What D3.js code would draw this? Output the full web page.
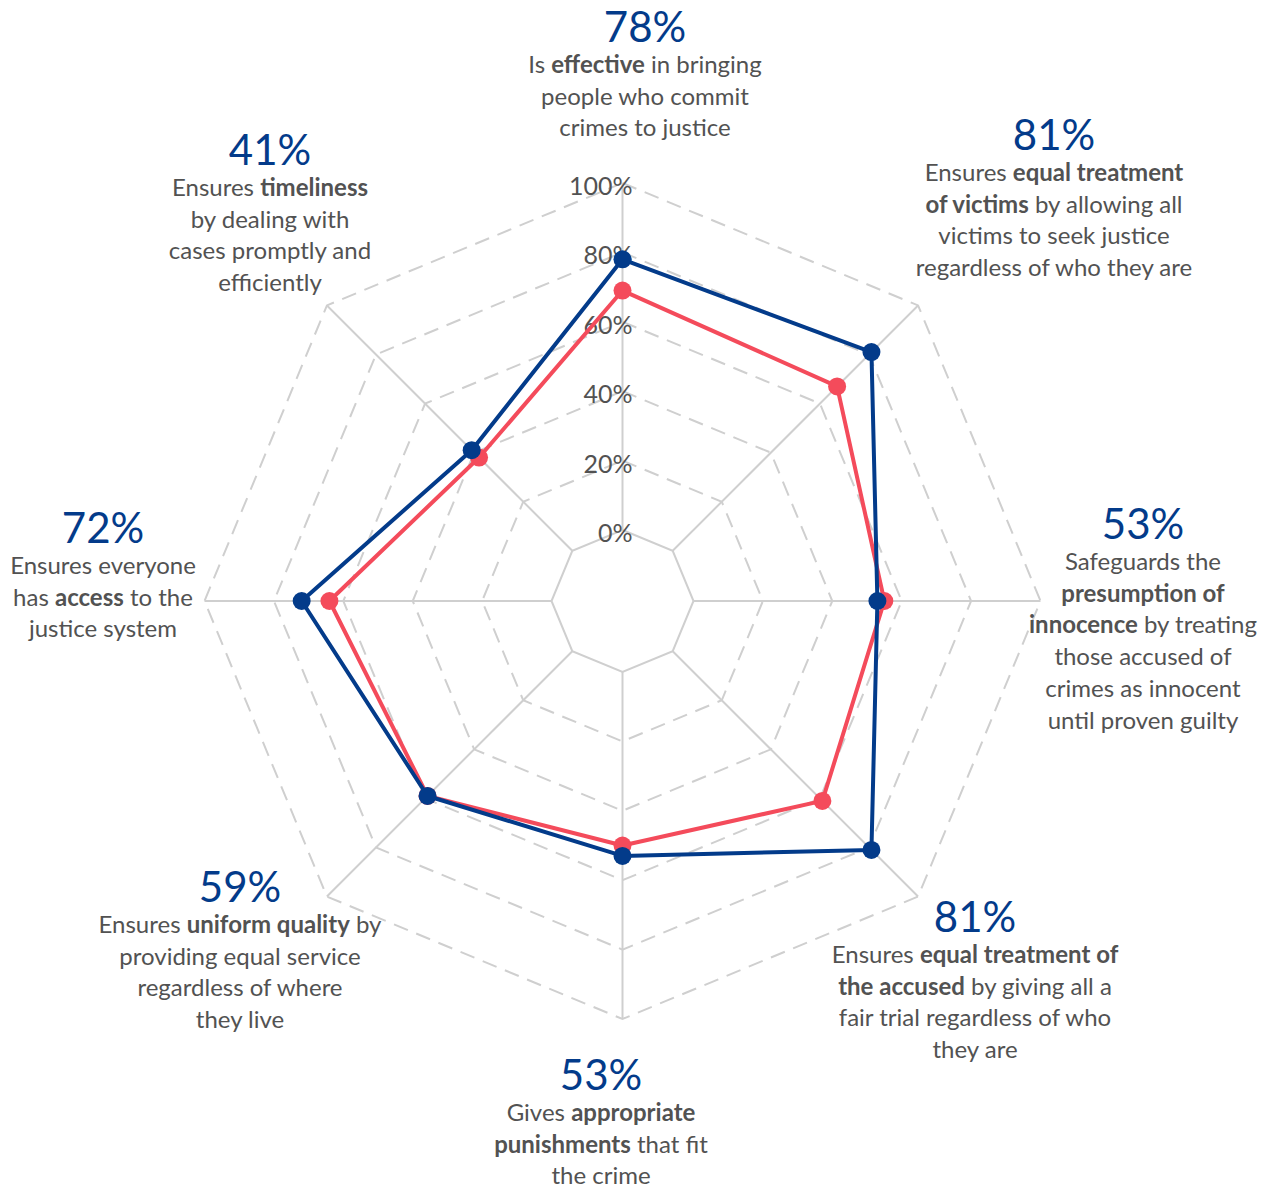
<!DOCTYPE html>
<html><head><meta charset="utf-8">
<script src="https://cdn.jsdelivr.net/npm/d3@7"></script>
<style>
body{margin:0;background:#fff}
svg{display:block}
text{font-family:Lato,'Open Sans',sans-serif}
</style>
</head><body>
<svg id="chart" width="1264" height="1188"></svg>
<script>
// ---- data ----
const categories = ["Effective","Equal treatment of victims","Presumption of innocence","Equal treatment of the accused","Appropriate punishments","Uniform quality","Access","Timeliness"];
const seriesBlue = [78, 81, 53, 81, 53, 59, 72, 41];
const seriesRed  = [69, 67, 55, 61, 50, 59, 64, 38];
const pctLabels  = ["78%","81%","53%","81%","53%","59%","72%","41%"];
const descriptions = [
  ["Is **effective** in bringing","people who commit","crimes to justice"],
  ["Ensures **equal treatment**","**of victims** by allowing all","victims to seek justice","regardless of who they are"],
  ["Safeguards the","**presumption of**","**innocence** by treating","those accused of","crimes as innocent","until proven guilty"],
  ["Ensures **equal treatment of**","**the accused** by giving all a","fair trial regardless of who","they are"],
  ["Gives **appropriate**","**punishments** that fit","the crime"],
  ["Ensures **uniform quality** by","providing equal service","regardless of where","they live"],
  ["Ensures everyone","has **access** to the","justice system"],
  ["Ensures **timeliness**","by dealing with","cases promptly and","efficiently"]
];
const tickValues = [0, 20, 40, 60, 80, 100];
const tickLabels = ["0%","20%","40%","60%","80%","100%"];

// ---- layout ----
const cx = 622.5, cy = 601;
const labelAnchors = [[645,42],[1054,150],[1143,539],[975,932],[601,1090],[240,902],[103,543],[270,165]];
const BLUE = "#033b8a", RED = "#f44b5b", GRID = "#cfcfcf", TEXT = "#525252";

const svg = d3.select("#chart");
const g = svg.append("g").attr("transform", `translate(${cx},${cy})`);

const angle = d3.scalePoint().domain(d3.range(categories.length)).range([0, 2*Math.PI*(categories.length-1)/categories.length]);
const r = d3.scaleLinear().domain([0, 100]).range([71, 418]);

const ringLine = d3.lineRadial().angle((d,i)=>angle(i)).radius(d=>r(d)).curve(d3.curveLinearClosed);

// rings
tickValues.forEach(v => {
  g.append("path")
    .attr("d", ringLine(categories.map(()=>v)))
    .attr("fill","none")
    .attr("stroke", GRID)
    .attr("stroke-width", 2)
    .attr("stroke-dasharray", v === 0 ? null : "15,9");
});

// spokes
categories.forEach((c,i) => {
  const a = angle(i);
  g.append("line")
    .attr("x1", r(0)*Math.sin(a)).attr("y1", -r(0)*Math.cos(a))
    .attr("x2", r(100)*Math.sin(a)).attr("y2", -r(100)*Math.cos(a))
    .attr("stroke", GRID).attr("stroke-width", 2);
});

// tick labels
g.selectAll("text.tick").data(tickValues).join("text")
  .attr("class","tick")
  .attr("x", 10)
  .attr("y", d => -r(d) + 2)
  .attr("text-anchor","end")
  .attr("dominant-baseline","central")
  .attr("font-size", 25)
  .attr("fill", TEXT)
  .text((d,i)=>tickLabels[i]);

// series
const pt = (v,i) => [r(v)*Math.sin(angle(i)), -r(v)*Math.cos(angle(i))];
[[seriesRed, RED],[seriesBlue, BLUE]].forEach(([vals,col]) => {
  g.append("path")
    .attr("d", ringLine(vals))
    .attr("fill","none").attr("stroke", col).attr("stroke-width", 4)
    .attr("stroke-linejoin","round");
  g.selectAll(null).data(vals).join("circle")
    .attr("cx",(d,i)=>pt(d,i)[0]).attr("cy",(d,i)=>pt(d,i)[1])
    .attr("r", 9).attr("fill", col);
});

// category labels
categories.forEach((c,i) => {
  const [x,y] = labelAnchors[i];
  svg.append("text").attr("x",x).attr("y",y).attr("text-anchor","middle")
    .attr("font-size",42).attr("fill",BLUE).text(pctLabels[i]);
  descriptions[i].forEach((line,k) => {
    const t = svg.append("text").attr("x",x).attr("y", y + 31 + k*31.7)
      .attr("text-anchor","middle").attr("font-size",24).attr("fill",TEXT);
    line.split("**").forEach((seg,j) => {
      if (!seg) return;
      t.append("tspan").attr("font-weight", j%2 ? 700 : 400).text(seg);
    });
  });
});
</script>
</body></html>
